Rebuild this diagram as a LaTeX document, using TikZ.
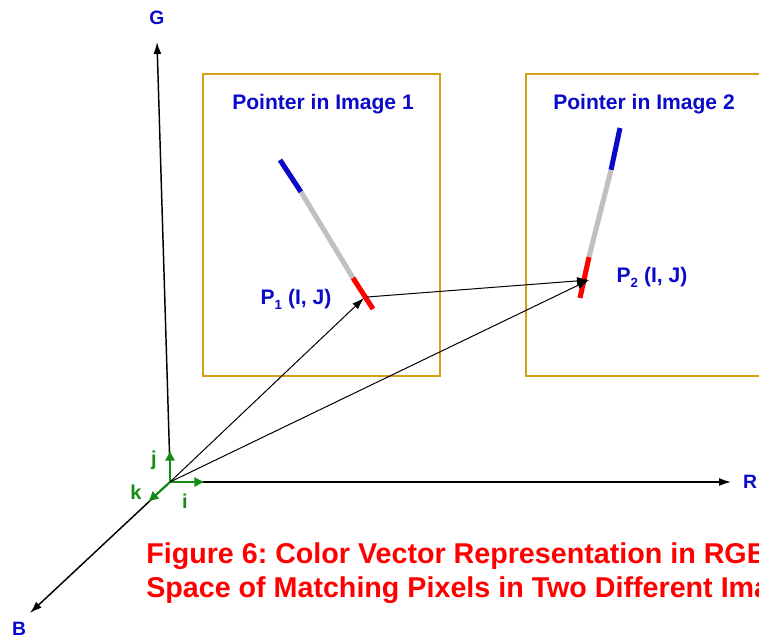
\documentclass[tikz,border=0pt]{standalone}
\usepackage{fontspec}
\setmainfont{Liberation Sans}
\usetikzlibrary{arrows.meta}
\frenchspacing
\definecolor{boxgold}{RGB}{212,160,23}
\definecolor{lblue}{RGB}{10,10,200}
\definecolor{capred}{RGB}{255,0,0}
\definecolor{vgreen}{RGB}{20,140,20}
\definecolor{pgray}{RGB}{192,192,192}
\newcommand{\subnum}[1]{\raisebox{-0.45ex}{\fontsize{10}{12}\selectfont #1}}
\tikzset{
  axis/.style={line width=1.1pt,-{Latex[length=9pt,width=6pt]}},
  unitvec/.style={line width=1.6pt,vgreen,-{Latex[length=8pt,width=8pt]}},
  vec/.style={line width=0.75pt,-{Latex[length=9pt,width=6pt]}},
  frame/.style={draw=boxgold,line width=1.3pt},
  axlabel/.style={text=lblue,font=\bfseries\fontsize{14.5}{17}\selectfont},
  title/.style={text=lblue,font=\bfseries\fontsize{15.8}{18}\selectfont},
  ulabel/.style={text=vgreen,font=\bfseries\fontsize{15}{17}\selectfont},
  caption/.style={text=capred,font=\bfseries\fontsize{21.5}{25.5}\selectfont,anchor=base west,inner sep=0pt}
}
\begin{document}
\begin{tikzpicture}[x=0.75pt,y=-0.75pt]
\useasboundingbox (0,0) rectangle (759,639);
\clip (0,0) rectangle (759,639);
% frames
\node[frame,minimum width=237*0.75pt,minimum height=302*0.75pt,anchor=north west,inner sep=0pt] (box1) at (202,73) {};
\node[frame,minimum width=260*0.75pt,minimum height=302*0.75pt,anchor=north west,inner sep=0pt] (box2) at (525,73) {};
\node[title] (t1) at (323,104) {Pointer in Image 1};
\node[title] (t2) at (644,104) {Pointer in Image 2};
% axes
\coordinate (O) at (170,482);
\coordinate (Oj) at (170,470);
\coordinate (Gend) at (157,42);
\coordinate (Rend) at (731,482);
\coordinate (Bend) at (30,613);
\draw[axis] (Oj) -- (Gend);
\draw[axis] (O) -- (Rend);
\draw[axis] (O) -- (Bend);
\node[axlabel] (G) at (157,18) {G};
\node[axlabel] (R) at (750,482) {R};
\node[axlabel,inner sep=1pt] (B) at (19,629) {B};
% unit vectors
\coordinate (jend) at (170,450);
\coordinate (iend) at (205,482);
\coordinate (kend) at (148,502);
\draw[unitvec] (O) -- (jend);
\draw[unitvec] (O) -- (iend);
\draw[unitvec] (O) -- (kend);
\node[ulabel] (jl) at (154,460) {j};
\node[ulabel] (kl) at (136,492) {k};
\node[ulabel] (il) at (185,501) {i};
% pointer 1
\coordinate (a1) at (280,160);
\coordinate (b1) at (301,192);
\coordinate (c1) at (353,278);
\coordinate (d1) at (373,309);
\draw[line width=3.8pt,lblue] (a1) -- (b1);
\draw[line width=3.8pt,pgray] (b1) -- (c1);
\draw[line width=3.8pt,red] (c1) -- (d1);
% pointer 2
\coordinate (a2) at (620,128);
\coordinate (b2) at (611,170);
\coordinate (c2) at (589,257);
\coordinate (d2) at (580,298);
\draw[line width=3.8pt,lblue] (a2) -- (b2);
\draw[line width=3.8pt,pgray] (b2) -- (c2);
\draw[line width=3.8pt,red] (c2) -- (d2);
% point labels
\node[title] (p1l) at (296,299) {P\subnum{1} (I, J)};
\node[title] (p2l) at (652,277) {P\subnum{2} (I, J)};
% vectors
\coordinate (P1) at (364,298);
\coordinate (P1s) at (367,297);
\coordinate (P2) at (589,280);
\draw[vec] (O) -- (P1);
\draw[vec] (O) -- (P2);
\draw[vec] (P1s) -- (P2);
% caption
\node[caption] (cap1) at (146,563) {Figure 6: Color Vector Representation in RGB};
\node[caption] (cap2) at (146,597) {Space of Matching Pixels in Two Different Images};
\end{tikzpicture}
\end{document}
